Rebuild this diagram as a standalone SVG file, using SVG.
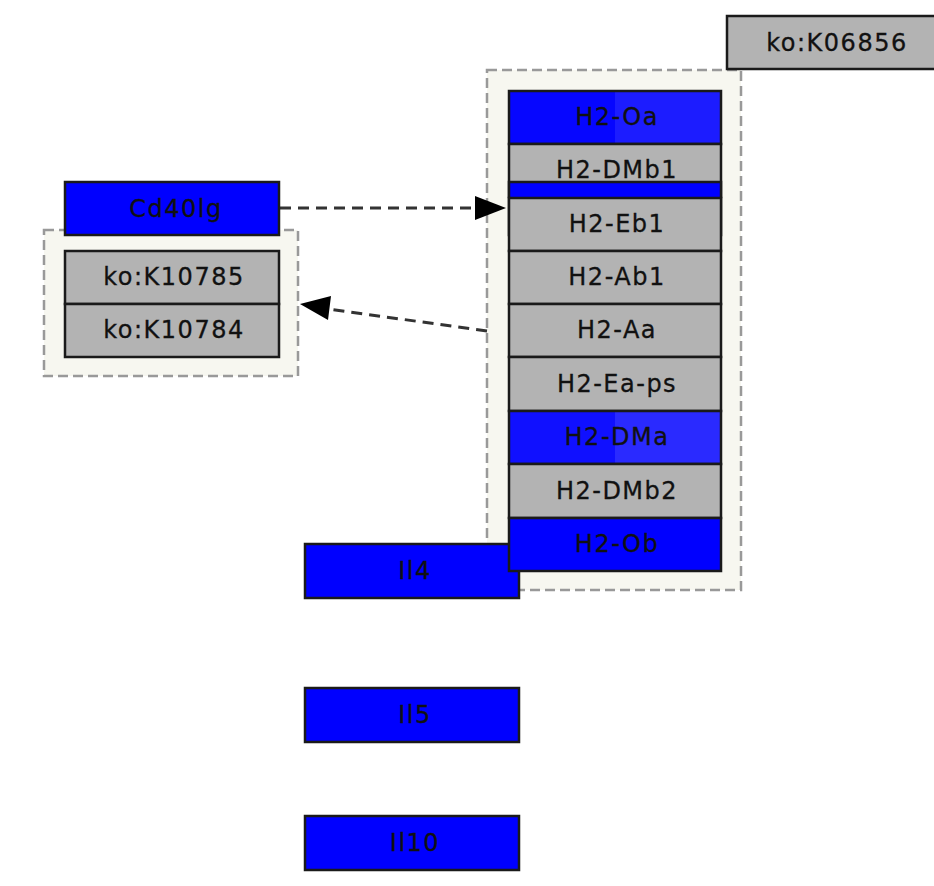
<svg xmlns="http://www.w3.org/2000/svg" width="934" height="886" viewBox="0 0 934 886">
<defs>
<style>
.grp{fill:#f7f7f0;stroke:#999;stroke-width:2.5;stroke-dasharray:10,5}
.gray{fill:#b3b3b3;stroke:#1a1a1a;stroke-width:2.5}
.blue{fill:#0000ff;stroke:#1a1a1a;stroke-width:2.5}
.lbl{font-family:"DejaVu Sans",sans-serif;font-size:24px;letter-spacing:1.5px;fill:#111;text-anchor:middle;stroke:#111;stroke-width:0.3}
.edge{fill:none;stroke:#333;stroke-width:3;stroke-dasharray:11,7}
</style>
</defs>
<rect width="934" height="886" fill="#fff"/>
<g id="group-left"><rect class="grp" x="44" y="230" width="254" height="146"/></g>
<g id="group-right"><rect class="grp" x="487" y="70" width="254" height="520"/></g>
<g id="connectors">
<line class="edge" x1="280" y1="208" x2="478" y2="208"/>
<path d="M475,196 L506,208 L475,220 z" fill="#000"/>
<line class="edge" x1="487" y1="331" x2="328" y2="309"/>
<path d="M331,296 L300,304 L328,320 z" fill="#000"/>
</g>
<g id="ko-K06856"><rect class="gray" x="727" y="16" width="215" height="53"/><text class="lbl" x="837" y="51">ko:K06856</text></g>
<g id="Cd40lg"><rect class="blue" x="65" y="182" width="214" height="53"/><text class="lbl" x="176" y="217">Cd40lg</text></g>
<g id="ko-K10785"><rect class="gray" x="65" y="251" width="214" height="53"/><text class="lbl" x="174" y="285">ko:K10785</text></g>
<g id="ko-K10784"><rect class="gray" x="65" y="304" width="214" height="53"/><text class="lbl" x="174" y="338">ko:K10784</text></g>
<g id="Il4"><rect class="blue" x="305" y="544" width="214" height="54"/><text class="lbl" x="415" y="579">Il4</text></g>
<g id="H2-Oa"><rect x="509" y="91" width="106" height="53" fill="#0606ff"/><rect x="615" y="91" width="106" height="53" fill="#1c1cff"/><rect x="509" y="91" width="212" height="53" fill="none" stroke="#1a1a1a" stroke-width="2.5"/><text class="lbl" x="617" y="125">H2-Oa</text></g>
<g id="H2-DMb1"><rect class="gray" x="509" y="144" width="212" height="53"/><text class="lbl" x="617" y="178">H2-DMb1</text></g>
<g id="hidden-blue"><rect class="blue" x="509" y="182" width="212" height="53"/></g>
<g id="H2-Eb1"><rect class="gray" x="509" y="198" width="212" height="53"/><text class="lbl" x="617" y="232">H2-Eb1</text></g>
<g id="H2-Ab1"><rect class="gray" x="509" y="251" width="212" height="53"/><text class="lbl" x="617" y="285">H2-Ab1</text></g>
<g id="H2-Aa"><rect class="gray" x="509" y="304" width="212" height="53"/><text class="lbl" x="617" y="338">H2-Aa</text></g>
<g id="H2-Ea-ps"><rect class="gray" x="509" y="357" width="212" height="54"/><text class="lbl" x="617" y="392">H2-Ea-ps</text></g>
<g id="H2-DMa"><rect x="509" y="411" width="106" height="53" fill="#1010ff"/><rect x="615" y="411" width="106" height="53" fill="#2a2aff"/><rect x="509" y="411" width="212" height="53" fill="none" stroke="#1a1a1a" stroke-width="2.5"/><text class="lbl" x="617" y="445">H2-DMa</text></g>
<g id="H2-DMb2"><rect class="gray" x="509" y="464" width="212" height="54"/><text class="lbl" x="617" y="499">H2-DMb2</text></g>
<g id="H2-Ob"><rect class="blue" x="509" y="518" width="212" height="53"/><text class="lbl" x="617" y="552">H2-Ob</text></g>
<g id="Il5"><rect class="blue" x="305" y="688" width="214" height="54"/><text class="lbl" x="415" y="723">Il5</text></g>
<g id="Il10"><rect class="blue" x="305" y="816" width="214" height="54"/><text class="lbl" x="415" y="851">Il10</text></g>
</svg>
